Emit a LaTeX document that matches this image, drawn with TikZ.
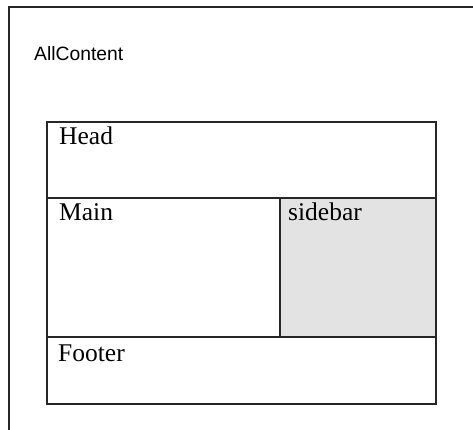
\documentclass[tikz,border=0pt]{standalone}
\usepackage{fontspec}
\setmainfont{Liberation Serif}
\newfontfamily\labelsans{Liberation Sans}
\begin{document}
\begin{tikzpicture}[x=1pt,y=-1pt,
  region/.style={draw=black!85, line width=1.8pt, inner sep=0pt, anchor=north west},
  serlabel/.style={anchor=base west, inner sep=0pt, font=\fontsize{25.5}{30}\selectfont},
  sanslabel/.style={anchor=base west, inner sep=0pt, font=\labelsans\fontsize{19.3}{23}\selectfont}]
\useasboundingbox (0,0) rectangle (473,430);
\clip (0,0) rectangle (473,430);
% outer container (cropped on right and bottom)
\node[region, minimum width=480pt, minimum height=440pt] (all) at (8,6) {};
\node[sanslabel] (alllbl) at (34,61) {AllContent};
% inner layout
\node[region, minimum width=389pt, minimum height=76pt] (head) at (46,121) {};
\node[region, minimum width=233pt, minimum height=139pt] (main) at (46,197) {};
\node[region, fill=black!11, minimum width=156pt, minimum height=139pt] (sidebar) at (279,197) {};
\node[region, minimum width=389pt, minimum height=67pt] (footer) at (46,336) {};
\node[serlabel] (headlbl) at (59,145) {Head};
\node[serlabel] (mainlbl) at (59,220) {Main};
\node[serlabel] (sidelbl) at (288,220) {sidebar};
\node[serlabel] (footlbl) at (58,361) {Footer};
\end{tikzpicture}
\end{document}
